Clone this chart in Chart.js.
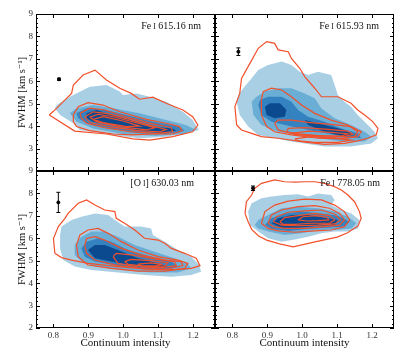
<!DOCTYPE html>
<html>
<head>
<meta charset="utf-8">
<script src="https://cdn.jsdelivr.net/npm/chart.js@4.4.1/dist/chart.umd.min.js"></script>
<style>
  html, body { margin: 0; padding: 0; background: #fff; }
  #wrap { position: relative; width: 407px; height: 353px; }
  #wrap canvas { position: absolute; left: 0; top: 0; }
</style>
</head>
<body>
<div id="wrap">
  <canvas id="c0" width="407" height="353"></canvas>
  <canvas id="c1" width="407" height="353"></canvas>
  <canvas id="c2" width="407" height="353"></canvas>
  <canvas id="c3" width="407" height="353"></canvas>
</div>
<script>
// axis ranges and tick labels
const xRange = [0.75, 1.263];
const yRange = [2, 9];
const xTicks = [0.8, 0.9, 1.0, 1.1, 1.2];
const yTicks = [2, 3, 4, 5, 6, 7, 8, 9];

// panel labels: [text, small-caps?]
const labelFe61516 = [['Fe\u2009', 0], ['I', 1], [' 615.16 nm', 0]];
const labelFe61593 = [['Fe\u2009', 0], ['I', 1], [' 615.93 nm', 0]];
const labelO63003 = [['[O\u2009', 0], ['I', 1], ['] 630.03 nm', 0]];
const labelFe77805 = [['Fe\u2009', 0], ['I', 1], [' 778.05 nm', 0]];

// error bars: [x, y, half-length]
const errFe61516 = [0.816, 6.09, 0.05];
const errFe61593 = [0.817, 7.32, 0.17];
const errO63003 = [0.814, 7.60, 0.45];
const errFe77805 = [0.859, 8.23, 0.10];

// filled density levels (light -> dark), each a list of polygons [x, y]
const fillFe61516 = [
  [[[0.809,4.94],[0.847,5.31],[0.904,5.76],[0.952,5.83],[0.990,5.54],[0.999,5.39],[1.038,5.46],[1.076,5.31],[1.123,5.09],[1.171,4.64],[1.199,4.27],[1.217,3.83],[1.180,3.68],[1.123,3.53],[1.047,3.46],[0.971,3.61],[0.876,3.83],[0.857,4.13],[0.819,4.50],[0.804,4.80]]],
  [[[0.847,4.57],[0.866,4.80],[0.914,4.94],[0.971,4.80],[1.047,4.57],[1.123,4.27],[1.180,4.05],[1.209,3.83],[1.171,3.65],[1.095,3.56],[1.000,3.65],[0.914,3.90],[0.866,4.20]]],
  [[[0.866,4.57],[0.895,4.80],[0.942,4.75],[1.009,4.50],[1.085,4.20],[1.161,3.98],[1.176,3.80],[1.123,3.65],[1.047,3.68],[0.961,3.90],[0.895,4.13],[0.871,4.35]]],
  [[[0.895,4.57],[0.923,4.72],[0.952,4.57],[1.019,4.27],[1.076,3.98],[1.142,3.90],[1.152,3.80],[1.104,3.71],[1.047,3.80],[0.971,4.05],[0.914,4.20],[0.895,4.35]]]
];
const fillFe61593 = [
  [[[0.817,5.39],[0.812,5.09],[0.821,4.50],[0.845,3.98],[0.874,3.61],[0.969,3.31],[1.064,3.09],[1.140,3.09],[1.198,3.23],[1.217,3.46],[1.207,3.75],[1.188,4.05],[1.159,4.50],[1.140,4.87],[1.121,5.09],[1.102,5.39],[1.093,5.83],[1.083,6.28],[1.045,6.43],[1.017,6.28],[0.993,6.43],[0.969,6.73],[0.941,6.88],[0.902,6.73],[0.874,6.50],[0.855,6.13],[0.831,5.69]]],
  [[[0.855,5.09],[0.860,4.50],[0.883,4.05],[0.931,3.75],[1.017,3.53],[1.112,3.31],[1.179,3.31],[1.198,3.53],[1.179,3.75],[1.140,4.05],[1.093,4.35],[1.055,4.79],[1.036,5.24],[1.007,5.46],[0.969,5.69],[0.931,5.69],[0.893,5.54],[0.869,5.31]]],
  [[[0.874,4.94],[0.883,4.50],[0.912,4.20],[0.969,3.98],[1.045,3.75],[1.121,3.53],[1.169,3.46],[1.159,3.68],[1.112,3.90],[1.064,4.20],[1.017,4.42],[0.988,4.72],[0.969,5.09],[0.941,5.31],[0.902,5.31],[0.879,5.17]]],
  [[[0.893,4.87],[0.907,5.02],[0.936,5.02],[0.955,4.72],[0.950,4.42],[0.921,4.35],[0.898,4.50]],
   [[1.007,4.27],[1.064,4.05],[1.121,3.83],[1.150,3.61],[1.121,3.53],[1.064,3.75],[1.017,4.05]]]
];
const fillO63003 = [
  [[[0.823,6.52],[0.852,6.81],[0.880,6.96],[0.919,7.11],[0.957,7.04],[0.976,6.81],[1.004,6.52],[1.052,6.52],[1.080,6.44],[1.085,6.15],[1.119,5.85],[1.157,5.48],[1.195,5.18],[1.218,4.81],[1.223,4.51],[1.195,4.36],[1.138,4.29],[1.061,4.36],[0.985,4.48],[0.909,4.59],[0.861,4.74],[0.828,5.03],[0.819,5.55],[0.819,6.15]]],
  [[[0.861,5.70],[0.880,6.07],[0.909,6.30],[0.947,6.30],[0.985,6.07],[1.033,5.70],[1.090,5.40],[1.147,5.11],[1.185,4.88],[1.195,4.66],[1.157,4.48],[1.080,4.48],[0.995,4.59],[0.919,4.74],[0.880,4.96],[0.861,5.26]]],
  [[[0.880,5.55],[0.895,5.85],[0.928,6.00],[0.966,5.85],[1.014,5.48],[1.080,5.18],[1.138,4.96],[1.157,4.74],[1.128,4.59],[1.061,4.63],[0.985,4.78],[0.919,4.96],[0.890,5.18]]],
  [[[0.899,5.48],[0.919,5.70],[0.947,5.70],[0.985,5.48],[1.042,5.11],[1.100,4.88],[1.128,4.74],[1.100,4.66],[1.033,4.78],[0.966,4.96],[0.919,5.11]]]
];
const fillFe77805 = [
  [[[0.850,6.59],[0.845,7.19],[0.855,7.56],[0.883,7.78],[0.912,7.86],[0.950,7.93],[0.988,7.96],[1.017,7.86],[1.045,8.00],[1.083,7.93],[1.093,7.71],[1.083,7.48],[1.112,7.26],[1.141,7.11],[1.164,6.82],[1.160,6.44],[1.131,6.30],[1.093,6.30],[1.055,6.22],[1.017,6.07],[0.979,5.95],[0.941,5.85],[0.902,6.00],[0.874,6.30]]],
  [[[0.864,6.59],[0.874,6.82],[0.902,7.04],[0.941,7.34],[0.988,7.41],[1.045,7.34],[1.093,7.19],[1.131,6.96],[1.155,6.67],[1.141,6.44],[1.093,6.37],[1.045,6.37],[0.998,6.22],[0.950,6.15],[0.902,6.30],[0.874,6.44]]],
  [[[0.893,6.59],[0.912,6.89],[0.950,7.11],[0.998,7.19],[1.055,7.11],[1.102,7.01],[1.136,6.74],[1.121,6.52],[1.074,6.47],[1.017,6.41],[0.960,6.33],[0.912,6.41]]],
  [[[0.912,6.67],[0.931,6.89],[0.969,7.04],[1.017,7.04],[1.064,6.92],[1.102,6.82],[1.093,6.59],[1.045,6.56],[0.988,6.47],[0.941,6.47]]]
];

// red contour lines, each a closed polygon [x, y]
const linesFe61516 = [
  [[0.788,4.50],[0.799,4.65],[0.814,4.87],[0.828,5.09],[0.852,5.46],[0.857,5.83],[0.885,6.28],[0.919,6.50],[0.952,6.06],[0.990,5.69],[1.023,5.46],[1.047,5.20],[1.085,5.29],[1.123,5.02],[1.171,4.72],[1.199,4.42],[1.214,4.05],[1.199,3.75],[1.142,3.53],[1.076,3.38],[1.028,3.43],[0.952,3.65],[0.861,3.78]],
  [[0.857,4.50],[0.871,4.87],[0.899,5.05],[0.942,4.94],[0.990,4.64],[1.066,4.30],[1.123,4.13],[1.161,3.98],[1.169,3.80],[1.142,3.65],[1.085,3.65],[1.028,3.61],[0.971,3.65],[0.904,3.80],[0.866,3.98],[0.857,4.20]],
  [[0.876,4.57],[0.904,4.80],[0.947,4.72],[1.009,4.42],[1.085,4.10],[1.137,3.94],[1.142,3.75],[1.095,3.68],[1.019,3.75],[0.942,3.94],[0.895,4.13],[0.880,4.35]],
  [[0.890,4.42],[0.914,4.64],[0.952,4.57],[1.019,4.30],[1.085,4.00],[1.123,3.85],[1.104,3.75],[1.038,3.80],[0.961,3.98],[0.904,4.16]],
  [[0.904,4.40],[0.928,4.53],[0.971,4.42],[1.038,4.15],[1.090,3.93],[1.066,3.83],[0.990,3.98],[0.923,4.20]],
  [[0.914,4.30],[0.942,4.42],[1.000,4.23],[1.047,4.00],[1.009,3.98],[0.942,4.16]]
];
const linesFe61593 = [
  [[0.812,4.05],[0.807,4.87],[0.821,5.46],[0.826,6.13],[0.850,6.80],[0.874,7.47],[0.898,7.77],[0.921,7.69],[0.931,7.40],[0.960,7.32],[0.969,7.02],[0.993,6.58],[1.007,6.21],[1.036,5.69],[1.055,5.31],[1.102,5.31],[1.140,5.02],[1.159,4.72],[1.179,4.50],[1.202,4.20],[1.217,3.90],[1.212,3.61],[1.188,3.46],[1.159,3.34],[1.121,3.23],[1.064,3.19],[0.998,3.31],[0.931,3.46],[0.883,3.53],[0.855,3.68],[0.826,3.83]],
  [[0.883,5.17],[0.888,5.54],[0.912,5.69],[0.941,5.61],[0.969,5.31],[0.998,4.94],[1.036,4.57],[1.083,4.27],[1.131,4.05],[1.159,3.75],[1.150,3.53],[1.112,3.43],[1.045,3.46],[0.969,3.61],[0.921,3.75],[0.898,3.98],[0.883,4.50]],
  [[0.921,4.13],[0.931,4.27],[0.969,4.27],[1.017,4.17],[1.083,4.08],[1.140,3.98],[1.169,3.75],[1.159,3.53],[1.112,3.46],[1.045,3.53],[0.969,3.68],[0.931,3.83]],
  [[0.955,3.75],[0.960,3.90],[1.007,3.93],[1.074,3.86],[1.131,3.78],[1.145,3.64],[1.121,3.53],[1.064,3.56],[0.998,3.64]],
  [[0.969,3.68],[1.017,3.78],[1.083,3.72],[1.131,3.66],[1.112,3.56],[1.045,3.58],[0.988,3.61]],
  [[0.979,3.43],[1.026,3.53],[1.093,3.46],[1.140,3.38],[1.102,3.28],[1.036,3.28],[0.988,3.34]]
];
const linesO63003 = [
  [[0.804,5.33],[0.800,5.99],[0.814,6.52],[0.833,6.89],[0.842,7.11],[0.871,7.56],[0.895,7.71],[0.919,7.48],[0.947,7.26],[0.976,7.19],[0.980,6.89],[1.004,6.67],[1.033,6.37],[1.061,6.00],[1.100,5.92],[1.119,5.78],[1.138,5.55],[1.176,5.33],[1.209,5.11],[1.220,4.78],[1.195,4.66],[1.138,4.59],[1.061,4.63],[0.985,4.74],[0.899,4.88],[0.852,5.03],[0.823,5.14]],
  [[0.866,5.70],[0.876,6.15],[0.899,6.37],[0.928,6.44],[0.957,6.22],[0.995,5.85],[1.042,5.48],[1.100,5.18],[1.157,5.03],[1.185,4.88],[1.176,4.66],[1.119,4.54],[1.042,4.54],[0.966,4.66],[0.899,4.81],[0.871,5.18]],
  [[0.890,5.70],[0.895,5.99],[0.919,6.07],[0.947,5.92],[0.995,5.55],[1.052,5.26],[1.119,5.03],[1.166,4.96],[1.171,4.78],[1.128,4.63],[1.061,4.63],[0.985,4.78],[0.919,5.03],[0.895,5.33]],
  [[0.971,5.18],[0.980,5.33],[1.023,5.26],[1.090,5.08],[1.147,4.96],[1.152,4.78],[1.109,4.69],[1.042,4.72],[0.985,4.88]],
  [[1.004,4.96],[1.023,5.06],[1.080,5.00],[1.128,4.91],[1.119,4.76],[1.061,4.76],[1.014,4.84]],
  [[1.042,4.85],[1.080,4.90],[1.109,4.84],[1.090,4.75],[1.052,4.77]]
];
const linesFe77805 = [
  [[0.836,7.11],[0.840,7.63],[0.855,7.93],[0.864,8.23],[0.883,8.45],[0.921,8.60],[0.950,8.52],[0.979,8.50],[1.007,8.52],[1.036,8.52],[1.064,8.45],[1.093,8.30],[1.112,8.15],[1.131,7.93],[1.150,7.63],[1.164,7.19],[1.169,6.89],[1.160,6.55],[1.130,6.25],[1.100,6.05],[1.040,5.85],[0.974,5.62],[0.935,5.75],[0.898,5.92],[0.875,6.10],[0.855,6.40],[0.845,6.74]],
  [[0.883,6.67],[0.893,7.19],[0.921,7.48],[0.960,7.66],[1.007,7.75],[1.055,7.71],[1.093,7.48],[1.121,7.19],[1.136,6.82],[1.121,6.52],[1.083,6.37],[1.036,6.33],[0.979,6.27],[0.931,6.33],[0.902,6.44]],
  [[0.902,6.67],[0.912,7.04],[0.941,7.26],[0.988,7.41],[1.036,7.46],[1.078,7.34],[1.107,7.11],[1.121,6.82],[1.107,6.59],[1.064,6.52],[1.007,6.44],[0.950,6.44],[0.917,6.52]],
  [[0.917,6.74],[0.926,6.96],[0.960,7.16],[1.007,7.22],[1.055,7.26],[1.093,7.07],[1.110,6.82],[1.093,6.64],[1.045,6.59],[0.988,6.56],[0.941,6.59]],
  [[0.936,6.74],[0.950,6.92],[0.988,7.01],[1.036,7.11],[1.078,7.01],[1.093,6.82],[1.078,6.67],[1.026,6.67],[0.979,6.62],[0.945,6.62]],
  [[0.988,6.82],[1.002,6.96],[1.040,7.01],[1.072,6.93],[1.076,6.82],[1.045,6.79],[1.012,6.77]]
];

const blues = ['#a9cfe5', '#6aaed6', '#3582c0', '#0b4a8f'];
const red = '#f2502a';
const serif = "'Liberation Serif', 'DejaVu Serif', serif";

const panels = [
  { fills: fillFe61516, lines: linesFe61516, err: errFe61516, label: labelFe61516,
    pad: {left: 16, top: 14, right: 192, bottom: 182}, yW: 20, xH: 0, showX: false, showY: true, textDx: 14 },
  { fills: fillFe61593, lines: linesFe61593, err: errFe61593, label: labelFe61593,
    pad: {left: 215, top: 14, right: 13, bottom: 182}, yW: 0, xH: 0, showX: false, showY: false, textDx: 15 },
  { fills: fillO63003, lines: linesO63003, err: errO63003, label: labelO63003,
    pad: {left: 16, top: 171, right: 192, bottom: 3}, yW: 20, xH: 22, showX: true, showY: true, textDx: 21 },
  { fills: fillFe77805, lines: linesFe77805, err: errFe77805, label: labelFe77805,
    pad: {left: 215, top: 171, right: 13, bottom: 3}, yW: 0, xH: 22, showX: true, showY: false, textDx: 14 }
];

const closed = pts => pts.concat([pts[0]]).map(p => ({x: p[0], y: p[1]}));

// black frame with inward ticks on all sides
const framePlugin = {
  id: 'frame',
  afterDraw(chart) {
    const {ctx, chartArea: a, scales: {x, y}} = chart;
    ctx.save();
    ctx.strokeStyle = '#000';
    ctx.lineWidth = 1;
    ctx.beginPath();
    xTicks.forEach(v => {
      const px = Math.round(x.getPixelForValue(v)) + 0.5;
      ctx.moveTo(px, a.bottom); ctx.lineTo(px, a.bottom - 4);
      ctx.moveTo(px, a.top); ctx.lineTo(px, a.top + 4);
    });
    for (let k = 0; k <= 35; k++) {
      const v = yRange[0] + k * 0.2;
      const py = Math.round(y.getPixelForValue(v)) + 0.5;
      const len = k % 5 === 0 ? 4 : 2;
      ctx.moveTo(a.left, py); ctx.lineTo(a.left + len, py);
      ctx.moveTo(a.right, py); ctx.lineTo(a.right - len, py);
    }
    ctx.stroke();
    ctx.strokeRect(a.left + 0.5, a.top + 0.5, a.right - a.left - 1, a.bottom - a.top - 1);
    ctx.restore();
  }
};

// panel name in the upper right corner, with a small-caps numeral
const labelPlugin = {
  id: 'panelLabel',
  afterDraw(chart, args, opts) {
    const {ctx, chartArea: a} = chart;
    ctx.save();
    ctx.fillStyle = '#111';
    ctx.textBaseline = 'alphabetic';
    ctx.textAlign = 'left';
    const fontOf = s => (s ? '7.5px ' : '10px ') + serif;
    let total = 0;
    opts.parts.forEach(([t, s]) => { ctx.font = fontOf(s); total += ctx.measureText(t).width; });
    let xx = a.right - opts.dx - total;
    const yy = a.top + 14.5;
    opts.parts.forEach(([t, s]) => {
      ctx.font = fontOf(s);
      ctx.fillText(t, xx, yy);
      xx += ctx.measureText(t).width;
    });
    ctx.restore();
  }
};

panels.forEach((p, i) => {
  const datasets = [];
  p.fills.forEach((level, li) => {
    level.forEach(poly => datasets.push({
      data: closed(poly), showLine: true, fill: 'shape',
      backgroundColor: blues[li], borderColor: 'rgba(0,0,0,0)', borderWidth: 0,
      pointRadius: 0, order: 20 - li
    }));
  });
  p.lines.forEach(poly => datasets.push({
    data: closed(poly), showLine: true, fill: false,
    borderColor: red, borderWidth: 1.2, pointRadius: 0, order: 5
  }));
  const [ex, ey, ee] = p.err;
  datasets.push({
    data: [{x: ex, y: ey - ee}, {x: ex, y: ey + ee}], showLine: true,
    borderColor: '#000', borderWidth: 1, pointStyle: 'line', pointRadius: 2,
    pointBorderColor: '#000', pointBorderWidth: 1, order: 2
  });
  datasets.push({
    data: [{x: ex, y: ey}], pointRadius: 1.5,
    backgroundColor: '#000', borderColor: '#000', order: 1
  });

  new Chart(document.getElementById('c' + i), {
    type: 'scatter',
    data: { datasets },
    options: {
      responsive: false,
      animation: false,
      events: [],
      layout: { padding: p.pad, autoPadding: false },
      plugins: {
        legend: { display: false },
        tooltip: { enabled: false },
        panelLabel: { parts: p.label, dx: p.textDx }
      },
      scales: {
        x: {
          type: 'linear', position: 'bottom', min: xRange[0], max: xRange[1],
          afterBuildTicks: s => { s.ticks = xTicks.map(v => ({value: v})); },
          afterFit: s => { s.height = p.xH; },
          grid: { display: false, drawTicks: false },
          border: { display: false },
          ticks: { display: p.showX, padding: 2, color: '#333', font: { family: serif, size: 9 },
                   maxRotation: 0, callback: v => Number(v).toFixed(1) },
          title: { display: p.showX, text: 'Continuum intensity', color: '#111',
                   font: { family: serif, size: 11 }, padding: 0 }
        },
        y: {
          type: 'linear', position: 'left', min: yRange[0], max: yRange[1],
          afterBuildTicks: s => {
            s.ticks = yTicks.filter(v => p.showX || v !== 2).map(v => ({value: v}));
          },
          afterFit: s => { s.width = p.yW; },
          grid: { display: false, drawTicks: false },
          border: { display: false },
          ticks: { display: p.showY, padding: 3, color: '#333', font: { family: serif, size: 9 },
                   callback: v => String(v) },
          title: { display: p.showY, text: 'FWHM [km s\u207B\u00B9]', color: '#111',
                   font: { family: serif, size: 10.5 }, padding: 0 }
        }
      }
    },
    plugins: [framePlugin, labelPlugin]
  });
});
</script>
</body>
</html>
